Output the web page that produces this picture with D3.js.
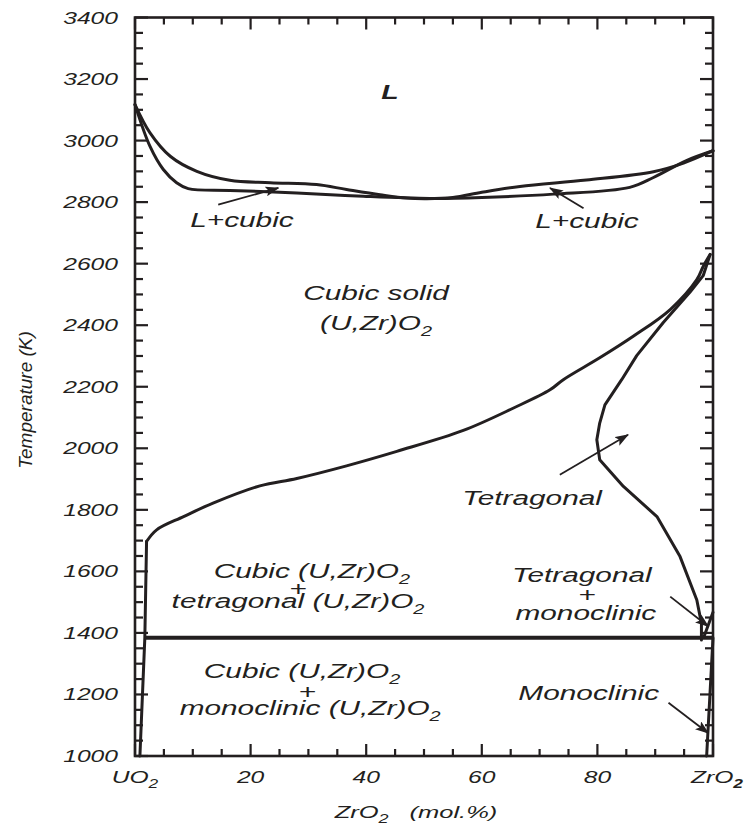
<!DOCTYPE html>
<html>
<head>
<meta charset="utf-8">
<script src="https://cdn.jsdelivr.net/npm/d3@7"></script>
<style>
  body { margin: 0; background: #fff; }
  text { font-family: Arial, "Liberation Sans", sans-serif; font-style: italic; fill: #231f20; }
</style>
</head>
<body>
<script>
// Phase boundaries: [ZrO2 mol.%, T (K)]
const liquidus = [[0,3117],[2.6,3025],[6.1,2949],[10.7,2900],[16.4,2871],[23.4,2863],[31.4,2857],
  [36.6,2841],[42.4,2824],[47,2813],[50.5,2811],[55,2815],[60,2832],[66.6,2851],[78.1,2872],
  [89.7,2899],[94.9,2927],[100,2967]];
const solidus = [[0,3117],[2.6,2981],[4.9,2906],[7.2,2863],[9.2,2844],[16.4,2838],[28,2830],
  [39.5,2819],[51,2812],[60,2815],[72.4,2826],[85.6,2848],[89.7,2880],[95.4,2935],[100,2967]];
const cubicLeft = [[0.85,1000],[1.7,1384],[2.0,1697]];
const cubicBoundary = [[2.0,1697],[3.75,1735],[8.4,1778],[13.5,1822],[21.6,1878],[28,1902],
  [36.6,1943],[45.3,1990],[56.8,2058],[65.5,2131],[71.8,2190],[74.1,2223],[80.4,2294],
  [86.2,2364],[92.6,2451],[97.2,2548],[98.3,2591],[99.5,2630]];
const tetragonalBoundary = [[99.5,2630],[98.3,2561],[96,2507],[91.4,2409],[86.8,2301],
  [84.2,2223],[81.3,2141],[80.4,2082],[79.9,2028],[80.4,1963],[84.5,1876],[90.3,1778],
  [94.3,1648],[97.2,1507],[98,1431],[98,1377]];
const monoclinicUpper = [[98.4,1386],[100,1467]];
const monoclinicLower = [[98.9,1000],[100,1384]];
const eutectoid = [[1.7,1384],[100,1384]];

// arrows: [x from, T from, x to, T to]
const arrows = [[14.4,2792,24.8,2846],[77.6,2780,71.8,2846],[73.5,1914,85.3,2044],
  [92.6,1518,99.2,1421],[92.3,1173,99.2,1074]];

// region labels: [text, subscript, x, T]
const labels = [
  ["L+cubic", "", 18.5, 2720],
  ["L+cubic", "", 78.2, 2717],
  ["Cubic solid", "", 41.7, 2483],
  ["(U,Zr)O", "2", 41.7, 2385],
  ["Tetragonal", "", 68.7, 1816],
  ["Cubic (U,Zr)O", "2", 30.6, 1579],
  ["+", "", 28.2, 1520],
  ["tetragonal (U,Zr)O", "2", 28.2, 1481],
  ["Cubic (U,Zr)O", "2", 28.9, 1254],
  ["+", "", 29.8, 1185],
  ["monoclinic (U,Zr)O", "2", 30.3, 1133],
  ["Tetragonal", "", 77.3, 1566],
  ["+", "", 78.2, 1500],
  ["monoclinic", "", 78.0, 1442],
  ["Monoclinic", "", 78.5, 1182]
];

const yMajor = d3.range(1000, 3401, 200);
const yMinor = d3.range(1050, 3400, 50).filter(v => v % 200 !== 0);
const xMajor = [0, 20, 40, 60, 80, 100];
const xMinor = d3.range(5, 100, 5).filter(v => v % 20 !== 0);
const xTickLabels = ["UO", "20", "40", "60", "80", "ZrO"];

const width = 749, height = 831;
const ink = "#231f20";

const svg = d3.select("body").append("svg")
  .attr("width", width)
  .attr("height", height);

const x = d3.scaleLinear().domain([0, 100]).range([135, 713]);
const y = d3.scaleLinear().domain([1000, 3400]).range([756, 17.5]);

// stretched italic text, like the original
function stext(g, str, px, py, size, sx, anchor) {
  return g.append("text")
    .attr("transform", `translate(${px},${py}) scale(${sx},1)`)
    .attr("text-anchor", anchor || "middle")
    .style("font-size", size + "px")
    .text(str);
}

// ticks on all four sides, pointing inward
const tk = svg.append("g").attr("stroke", ink).attr("stroke-width", 2.2);
function xTicks(vals, len) {
  [[y(1000), -1], [y(3400), 1]].forEach(([p, dir]) => {
    tk.append("g").selectAll("line").data(vals).join("line")
      .attr("x1", d => x(d)).attr("x2", d => x(d))
      .attr("y1", p).attr("y2", p + dir * len);
  });
}
function yTicks(vals, len) {
  [[x(0), 1], [x(100), -1]].forEach(([p, dir]) => {
    tk.append("g").selectAll("line").data(vals).join("line")
      .attr("y1", d => y(d)).attr("y2", d => y(d))
      .attr("x1", p).attr("x2", p + dir * len);
  });
}
xTicks(xMinor, 7);
xTicks(xMajor, 12);
yTicks(yMinor, 8);
yTicks(yMajor, 13);

svg.append("rect")
  .attr("x", x(0)).attr("y", y(3400))
  .attr("width", x(100) - x(0)).attr("height", y(1000) - y(3400))
  .attr("fill", "none").attr("stroke", ink).attr("stroke-width", 2.6);

// tick labels
const lab = svg.append("g");
yMajor.forEach(v => {
  stext(lab, v, 118, y(v) + 6, 17, 1.45, "end");
});
xMajor.forEach((v, i) => {
  const t = stext(lab, xTickLabels[i], x(v) + (i === 5 ? 4 : 0), 783, 17, 1.45);
  if (i === 0 || i === 5) {
    t.append("tspan").attr("dy", 5).style("font-size", "12px")
      .style("font-weight", i === 5 ? "bold" : "normal").text("2");
  }
});

// axis titles
const xt = stext(lab, "ZrO", 416, 818, 17, 1.5);
xt.append("tspan").attr("dy", 5).style("font-size", "12px").text("2");
xt.append("tspan").attr("dy", -5).attr("dx", 14).text("(mol.%)");

svg.append("text")
  .attr("transform", `translate(32,400) rotate(-90)`)
  .attr("text-anchor", "middle")
  .style("font-size", "19px")
  .text("Temperature (K)");

// phase boundaries
const smooth = d3.line().x(d => x(d[0])).y(d => y(d[1])).curve(d3.curveCatmullRom.alpha(0.5));
const straight = d3.line().x(d => x(d[0])).y(d => y(d[1]));
const curves = svg.append("g").attr("fill", "none").attr("stroke", ink)
  .attr("stroke-linejoin", "round").attr("stroke-linecap", "round");

curves.append("path").attr("d", smooth(liquidus)).attr("stroke-width", 3);
curves.append("path").attr("d", smooth(solidus)).attr("stroke-width", 3);
curves.append("path").attr("d", straight(cubicLeft)).attr("stroke-width", 3);
curves.append("path").attr("d", smooth(cubicBoundary)).attr("stroke-width", 3);
curves.append("path").attr("d", straight(tetragonalBoundary)).attr("stroke-width", 3);
curves.append("path").attr("d", straight(monoclinicUpper)).attr("stroke-width", 3);
curves.append("path").attr("d", straight(monoclinicLower)).attr("stroke-width", 3);
curves.append("path").attr("d", straight(eutectoid)).attr("stroke-width", 4).attr("stroke-linecap", "butt");

// arrows
svg.append("defs").append("marker")
  .attr("id", "head")
  .attr("viewBox", "0 0 14 10")
  .attr("refX", 13).attr("refY", 5)
  .attr("markerWidth", 14).attr("markerHeight", 10)
  .attr("markerUnits", "userSpaceOnUse")
  .attr("orient", "auto")
  .append("path")
  .attr("d", "M0,0 L14,5 L0,10 L3,5 Z")
  .attr("fill", ink);

svg.append("g").selectAll("line")
  .data(arrows)
  .join("line")
  .attr("x1", d => x(d[0])).attr("y1", d => y(d[1]))
  .attr("x2", d => x(d[2])).attr("y2", d => y(d[3]))
  .attr("stroke", ink).attr("stroke-width", 1.8)
  .attr("marker-end", "url(#head)");

// region labels
const rl = svg.append("g");
labels.forEach(d => {
  const t = stext(rl, d[0], x(d[2]), y(d[3]), 21, 1.42);
  if (d[1]) t.append("tspan").attr("dy", 6).style("font-size", "14px").text(d[1]);
});
stext(rl, "L", x(44.1), y(3136), 20, 1.42).style("font-weight", "bold");
</script>
</body>
</html>
